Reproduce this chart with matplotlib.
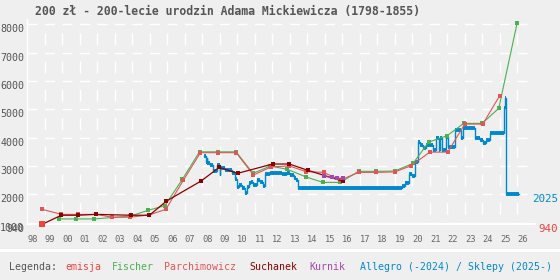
import matplotlib
matplotlib.use("Agg")
import matplotlib.pyplot as plt
import matplotlib.transforms as mtransforms
from matplotlib.lines import Line2D

plt.rcParams['lines.scale_dashes'] = False

# --- dane ---
emisja_x = [1998.86]
emisja_y = [940]

fischer_x = [1999.85, 2000.82, 2001.85, 2003.9, 2004.9, 2005.87, 2006.87, 2007.85, 2008.93,
             2009.94, 2010.9, 2011.89, 2012.87, 2013.9, 2014.89, 2015.89, 2016.93, 2017.94,
             2018.98, 2020.04, 2020.93, 2021.98, 2022.93, 2023.98, 2024.93, 2025.98]
fischer_y = [1130, 1130, 1130, 1230, 1430, 1600, 2530, 3500, 3500,
             3500, 2740, 3000, 2880, 2620, 2420, 2420, 2810, 2810,
             2820, 3090, 3845, 4070, 4505, 4505, 5035, 8050]

parch_x = [1998.86, 1999.96, 2000.91, 2001.94, 2002.87, 2003.89, 2004.97, 2005.93, 2006.93,
           2007.9, 2008.93, 2009.94, 2010.93, 2011.94, 2012.97, 2013.94, 2014.93, 2015.89,
           2016.93, 2017.94, 2018.99, 2019.94, 2020.99, 2022.02, 2022.99, 2024.02, 2024.99]
parch_y = [1470, 1290, 1290, 1290, 1190, 1190, 1270, 1470, 2500,
           3470, 3470, 3470, 2680, 2970, 3000, 2800, 2775, 2500,
           2775, 2775, 2790, 3010, 3490, 3490, 4480, 4480, 5490]

such_x = [1998.9, 1999.96, 2000.91, 2001.94, 2003.96, 2004.99, 2005.96, 2007.94, 2008.97,
          2010.02, 2012.02, 2012.97, 2014.02, 2016.04]
such_y = [950, 1260, 1260, 1290, 1260, 1260, 1760, 2470, 2950,
          2740, 3070, 3070, 2850, 2460]

kurnik_x = [2014.97, 2015.4, 2015.7, 2016.02]
kurnik_y = [2630, 2600, 2570, 2570]

allegro_x = [2008.11, 2008.2, 2008.25, 2008.3, 2008.46, 2008.59, 2008.84, 2008.99, 2009.03,
             2009.31, 2009.71, 2009.89, 2009.98, 2010.13, 2010.27, 2010.42, 2010.55, 2010.65,
             2010.8, 2010.93, 2011.13, 2011.31, 2011.45, 2011.6, 2011.89, 2012.55, 2012.84,
             2013.03, 2013.22, 2013.37, 2013.45, 2019.41, 2019.6, 2019.8, 2020.0, 2020.15,
             2020.3, 2020.45, 2020.6, 2020.8, 2021.15, 2021.35, 2021.5, 2021.6, 2021.7,
             2021.9, 2022.05, 2022.45, 2022.8, 2022.9, 2023.6, 2023.85, 2024.05, 2024.2,
             2024.45, 2025.22, 2025.28, 2025.35, 2026.1]
allegro_y = [3370, 3150, 3270, 3090, 3030, 2830, 3030, 2680, 2920,
             2860, 2760, 2530, 2250, 2330, 2210, 2030, 2250, 2410,
             2440, 2330, 2500, 2440, 2290, 2720, 2760, 2720, 2740,
             2680, 2560, 2500, 2210, 2300, 2390, 2720, 2640, 3130,
             3850, 3740, 3620, 3740, 3560, 3980, 3560, 3980, 3560,
             4030, 3660, 4270, 3980, 4330, 3980, 3920, 3800, 3920,
             4150, 5040, 5410, 2025, 2025]

years = list(range(1998, 2027))
year_labels = ['%02d' % (y % 100) for y in years]
yticks = [940, 1000, 2000, 3000, 4000, 5000, 6000, 7000, 8000]

bg = '#efefef'
grey = '#555555'
c_emisja = '#ee4444'
c_fischer = '#4caf50'
c_parch = '#e05555'
c_such = '#8b0000'
c_kurnik = '#a347a8'
c_allegro = '#0088cc'

fig = plt.figure(figsize=(5.6, 2.8), dpi=100, facecolor=bg)
ax = fig.add_axes([27 / 560, (280 - 224.3) / 280, 508 / 560, (224.3 - 18.8) / 280])
ax.set_facecolor(bg)
ax.set_xlim(1998, 2027)
ax.set_ylim(940, 8200)

# siatka
ax.set_yticks(yticks)
ax.set_yticklabels([str(v) for v in yticks])
ax.set_xticks(years)
ax.set_xticklabels(year_labels)
ax.yaxis.grid(True, color='white', lw=1.0, linestyle=(0, (7.2, 5.4)))
ax.xaxis.grid(True, color='white', lw=1.0, linestyle=(13.2, (8.6, 11.7)))
ax.set_axisbelow(True)
for s in ['top', 'right']:
    ax.spines[s].set_visible(False)
ax.spines['left'].set_color('white')
ax.spines['left'].set_linewidth(1.0)
ax.spines['bottom'].set_color('white')
ax.spines['bottom'].set_linewidth(1.5)
ax.tick_params(length=0)
ax.tick_params(axis='y', pad=2, labelsize=7.2, labelcolor=grey)
ax.tick_params(axis='x', pad=8, labelsize=6.3, labelcolor='#666666')
for lbl in ax.get_xticklabels():
    lbl.set_horizontalalignment('left')
    lbl.set_family('DejaVu Sans Mono')
for lbl in ax.get_yticklabels():
    lbl.set_verticalalignment('top')
    lbl.set_family('DejaVu Sans Mono')

# Allegro / Sklepy - schodki
ax.step(allegro_x, allegro_y, where='post', color=c_allegro, lw=1.0, zorder=2)
ax.hlines(allegro_y[:-1], allegro_x[:-1], allegro_x[1:], color=c_allegro, lw=2.8, zorder=2)

mk = dict(marker='s', ms=2.6, mew=0)
ax.plot(fischer_x, fischer_y, color=c_fischer, lw=0.8, zorder=3, **mk)
ax.plot(parch_x, parch_y, color=c_parch, lw=0.8, zorder=3, **mk)
ax.plot(such_x, such_y, color=c_such, lw=0.9, zorder=4, **mk)
ax.plot(kurnik_x, kurnik_y, color=c_kurnik, lw=0.8, zorder=4, **mk)
ax.plot(emisja_x, emisja_y, color=c_emisja, lw=0, marker='s', ms=4.8, mew=0, zorder=5, clip_on=False)

# etykiety po prawej
tr = mtransforms.blended_transform_factory(ax.transAxes, ax.transData)
ax.text(1 + 23 / 508, allegro_y[-1], '2025', transform=tr, ha='right', va='top',
        color=c_allegro, fontsize=7.8, family='DejaVu Sans Mono')
ax.text(1 + 23 / 508, emisja_y[0], '940', transform=tr, ha='right', va='top',
        color=c_emisja, fontsize=7.8, family='DejaVu Sans Mono')

# tytul
fig.text(35 / 560, 1 - 12 / 280, '200 zł - 200-lecie urodzin Adama Mickiewicza (1798-1855)',
         ha='left', va='center', fontsize=8.3, fontweight='bold', color=grey,
         family='DejaVu Sans Mono')

# separator i legenda
fig.add_artist(Line2D([0, 1], [30 / 280, 30 / 280], transform=fig.transFigure,
                      color='white', lw=2.2))
legend_items = [('Legenda:', grey, 9.3), ('emisja', c_emisja, 65), ('Fischer', c_fischer, 111.7),
                ('Parchimowicz', c_parch, 164.3), ('Suchanek', c_such, 249.3),
                ('Kurnik', c_kurnik, 309.3), ('Allegro (-2024) / Sklepy (2025-)', c_allegro, 360)]
for txt, col, xpx in legend_items:
    fig.text(xpx / 560, 13 / 280, txt, ha='left', va='center', color=col,
             fontsize=7.1, family='DejaVu Sans Mono')

fig.savefig('out.png', dpi=100, facecolor=bg)
